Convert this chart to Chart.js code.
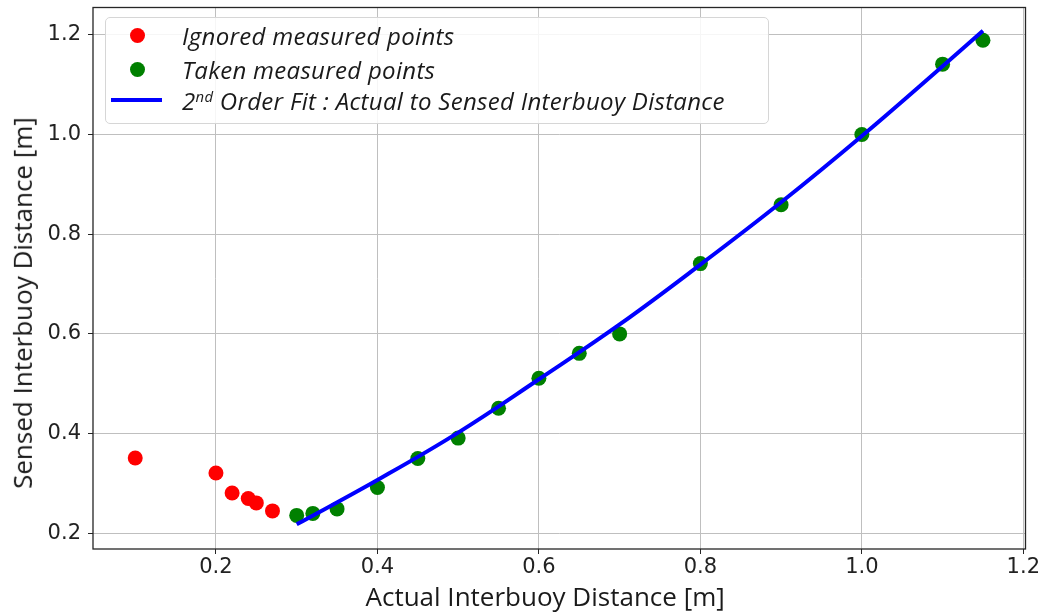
<!DOCTYPE html>
<html>
<head>
<meta charset="utf-8">
<script src="https://cdn.jsdelivr.net/npm/chart.js@4.4.1/dist/chart.umd.min.js"></script>
<style>
  body { margin: 0; background: #fff; }
  #wrap { position: relative; width: 1044px; height: 614px; }
  #legend {
    position: absolute; left: 105px; top: 17px; width: 662px; height: 105px;
    border: 1px solid #d6d6d6; border-radius: 5px; background: rgba(255,255,255,0.85);
    font-family: "Open Sans", sans-serif; font-style: italic; font-size: 24px; letter-spacing: 0.3px; color: #1a1a1a;
  }
  .row { position: absolute; left: 0; height: 30px; width: 100%; }
  .row .txt { position: absolute; left: 76px; top: 50%; transform: translateY(-50%); white-space: nowrap; }
  .row .dot { position: absolute; left: 24px; top: 50%; width: 15px; height: 15px; margin-top: -7.5px; border-radius: 50%; }
  .row .ln { position: absolute; left: 5px; top: 50%; width: 51px; height: 4px; margin-top: -2px; }
  sup { font-size: 62%; vertical-align: 0; position: relative; top: -0.55em; }
  .axtitle { position: absolute; font-family: "Open Sans", sans-serif; font-size: 26px; color: #1a1a1a; white-space: nowrap; }
</style>
</head>
<body>
<div id="wrap">
  <canvas id="chart" width="1044" height="614"></canvas>
  <div id="legend"></div>
  <div class="axtitle" id="xTitle"></div>
  <div class="axtitle" id="yTitle"></div>
</div>
<script>
// measured points
const ignoredX = [0.1, 0.2, 0.22, 0.24, 0.25, 0.27];
const ignoredY = [0.351, 0.321, 0.281, 0.270, 0.261, 0.245];
const takenX = [0.3, 0.32, 0.35, 0.4, 0.45, 0.5, 0.55, 0.6, 0.65, 0.7, 0.8, 0.9, 1.0, 1.1, 1.15];
const takenY = [0.236, 0.240, 0.249, 0.292, 0.350, 0.391, 0.451, 0.511, 0.561, 0.600, 0.741, 0.859, 1.0, 1.141, 1.189];

// fitted curve as drawn
const fitX = [0.3, 0.4, 0.5, 0.6, 0.7, 0.8, 0.9, 1.0, 1.1, 1.15];
const fitY = [0.218, 0.307, 0.402, 0.509, 0.619, 0.739, 0.864, 0.997, 1.137, 1.208];

const xTicks = [0.2, 0.4, 0.6, 0.8, 1.0, 1.2];
const yTicks = [0.2, 0.4, 0.6, 0.8, 1.0, 1.2];

const xLabel = "Actual Interbuoy Distance [m]";
const yLabel = "Sensed Interbuoy Distance [m]";

const pts = (xs, ys) => xs.map((x, i) => ({ x, y: ys[i] }));

// -------------------------------------------------------------
// spines on all four sides, like matplotlib
// -------------------------------------------------------------
const frame = {
  id: "frame",
  afterDatasetsDraw(chart) {
    const { ctx, chartArea: a } = chart;
    ctx.save();
    ctx.strokeStyle = "#262626";
    ctx.lineWidth = 1.3;
    ctx.strokeRect(a.left, a.top, a.right - a.left, a.bottom - a.top);
    ctx.restore();
  },
};

const tickFont = { family: "DejaVu Sans", size: 21 };
const gridStyle = { color: "#bfbfbf", lineWidth: 1, tickColor: "#262626", tickLength: 5 };

const chart = new Chart(document.getElementById("chart"), {
  type: "scatter",
  data: {
    datasets: [
      {
        label: "Ignored measured points",
        data: pts(ignoredX, ignoredY),
        backgroundColor: "#ff0000",
        borderWidth: 0,
        pointRadius: 7.5,
        order: 2,
      },
      {
        label: "Taken measured points",
        data: pts(takenX, takenY),
        backgroundColor: "#008000",
        borderWidth: 0,
        pointRadius: 7.5,
        order: 1,
      },
      {
        label: "2nd Order Fit : Actual to Sensed Interbuoy Distance",
        data: pts(fitX, fitY),
        showLine: true,
        borderColor: "#0000ff",
        borderWidth: 4,
        pointRadius: 0,
        tension: 0.4,
        order: 0,
      },
    ],
  },
  options: {
    responsive: false,
    animation: false,
    devicePixelRatio: 1,
    layout: { padding: { left: 0, top: 6, right: 18.5, bottom: 0 } },
    plugins: { legend: { display: false }, tooltip: { enabled: false } },
    scales: {
      x: {
        type: "linear",
        min: 0.0477,
        max: 1.2027,
        afterBuildTicks: (s) => { s.ticks = xTicks.map((v) => ({ value: v })); },
        afterFit: (s) => { s.height = 65; s.paddingLeft = 0; s.paddingRight = 0; },
        ticks: { font: tickFont, color: "#222", padding: 1, callback: (v) => v.toFixed(1) },
        grid: gridStyle,
        border: { display: false },
      },
      y: {
        type: "linear",
        min: 0.1686,
        max: 1.2546,
        afterBuildTicks: (s) => { s.ticks = yTicks.map((v) => ({ value: v })); },
        afterFit: (s) => { s.width = 93; s.paddingTop = 0; s.paddingBottom = 0; },
        ticks: { font: tickFont, color: "#222", padding: 7, callback: (v) => v.toFixed(1) },
        grid: gridStyle,
        border: { display: false },
      },
    },
  },
  plugins: [frame],
});

// -------------------------------------------------------------
// legend box (HTML) built from the datasets
// -------------------------------------------------------------
const legend = document.getElementById("legend");
const rowCenters = [17, 51, 82];
chart.data.datasets.forEach((ds, i) => {
  const row = document.createElement("div");
  row.className = "row";
  row.style.top = rowCenters[i] - 15 + "px";
  const mark = document.createElement("div");
  if (ds.showLine) {
    mark.className = "ln";
    mark.style.background = ds.borderColor;
  } else {
    mark.className = "dot";
    mark.style.background = ds.backgroundColor;
  }
  const txt = document.createElement("div");
  txt.className = "txt";
  txt.innerHTML = ds.label.replace(/^(\d)(nd)/, "$1<sup>$2</sup>");
  row.append(mark, txt);
  legend.append(row);
});

// axis titles
const xt = document.getElementById("xTitle");
xt.textContent = xLabel;
xt.style.left = 545 - xt.offsetWidth / 2 + "px";
xt.style.top = 596 - xt.offsetHeight / 2 + "px";

const yt = document.getElementById("yTitle");
yt.textContent = yLabel;
yt.style.left = 22 - yt.offsetWidth / 2 + "px";
yt.style.top = 303 - yt.offsetHeight / 2 + "px";
yt.style.transform = "rotate(-90deg)";
</script>
</body>
</html>
